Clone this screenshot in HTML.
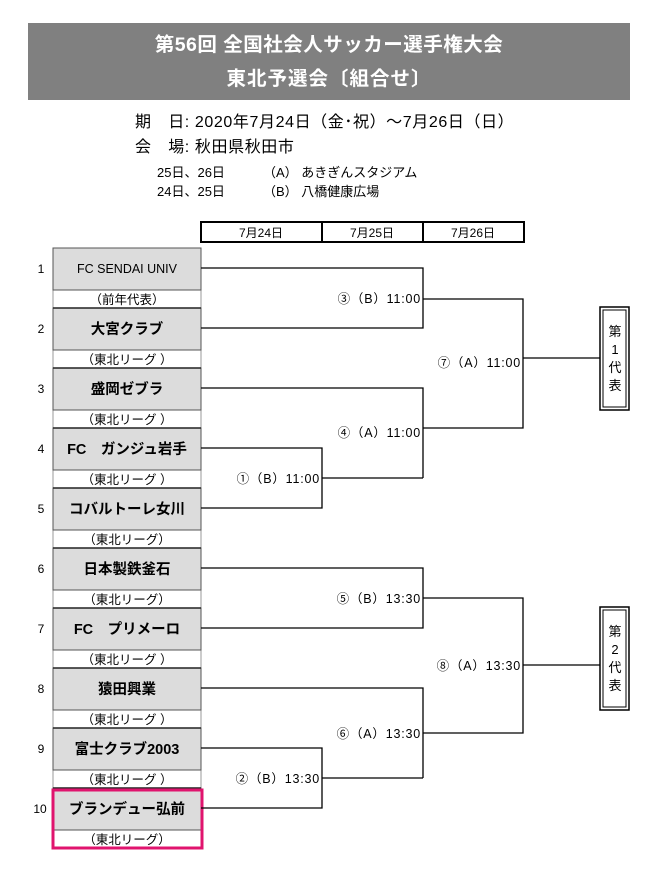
<!DOCTYPE html>
<html><head><meta charset="utf-8"><style>
body{margin:0;background:#fff;}
svg text{font-family:"Liberation Sans","Noto Sans CJK JP",sans-serif;}
</style></head><body>
<svg width="660" height="890" xmlns="http://www.w3.org/2000/svg">
<rect x="28" y="23" width="602" height="77" fill="#808080"/>
<text x="329" y="51" font-size="19.5" font-weight="bold" fill="#fff" text-anchor="middle" letter-spacing="0.5">第56回 全国社会人サッカー選手権大会</text>
<text x="329" y="85" font-size="19.5" font-weight="bold" fill="#fff" text-anchor="middle" letter-spacing="1">東北予選会〔組合せ〕</text>
<text x="135" y="127" font-size="16" letter-spacing="0.6">期　日:  2020年7月24日（金･祝）～7月26日（日）</text>
<text x="135" y="152" font-size="16" letter-spacing="0.6">会　場:  秋田県秋田市</text>
<text x="157" y="177" font-size="13">25日、26日</text>
<text x="263" y="177" font-size="13">（A）  あきぎんスタジアム</text>
<text x="157" y="196" font-size="13">24日、25日</text>
<text x="263" y="196" font-size="13">（B）  八橋健康広場</text>
<g stroke="#000" stroke-width="2" fill="#fff">
<rect x="201" y="222" width="323" height="20"/>
<line x1="322" y1="222" x2="322" y2="242"/><line x1="423" y1="222" x2="423" y2="242"/>
</g>
<g font-size="12" text-anchor="middle">
<text x="261" y="237">7月24日</text><text x="372" y="237">7月25日</text><text x="473" y="237">7月26日</text>
</g>
<g stroke="#999" stroke-width="1">
<rect x="53" y="248" width="148" height="600" fill="#fff"/>
</g>
<g fill="#dcdcdc" stroke="#555" stroke-width="1">
<rect x="53" y="248" width="148" height="42"/>
<rect x="53" y="308" width="148" height="42"/>
<rect x="53" y="368" width="148" height="42"/>
<rect x="53" y="428" width="148" height="42"/>
<rect x="53" y="488" width="148" height="42"/>
<rect x="53" y="548" width="148" height="42"/>
<rect x="53" y="608" width="148" height="42"/>
<rect x="53" y="668" width="148" height="42"/>
<rect x="53" y="728" width="148" height="42"/>
<rect x="53" y="788" width="148" height="42"/>
</g>
<g stroke="#222" stroke-width="1.5">
<line x1="53" y1="308" x2="201" y2="308"/><line x1="53" y1="368" x2="201" y2="368"/>
<line x1="53" y1="428" x2="201" y2="428"/><line x1="53" y1="488" x2="201" y2="488"/>
<line x1="53" y1="548" x2="201" y2="548"/><line x1="53" y1="608" x2="201" y2="608"/>
<line x1="53" y1="668" x2="201" y2="668"/><line x1="53" y1="728" x2="201" y2="728"/>
<line x1="53" y1="788" x2="201" y2="788"/>
</g>
<rect x="53" y="790" width="149" height="58" fill="none" stroke="#e0146e" stroke-width="3"/>
<g font-size="12" text-anchor="middle">
<text x="41" y="273">1</text><text x="41" y="333">2</text><text x="41" y="393">3</text><text x="41" y="453">4</text><text x="41" y="513">5</text>
<text x="41" y="573">6</text><text x="41" y="633">7</text><text x="41" y="693">8</text><text x="41" y="753">9</text><text x="40" y="813">10</text>
</g>
<g font-size="14.5" font-weight="bold" text-anchor="middle">
<text x="127" y="273" font-weight="normal" font-size="12.5">FC SENDAI UNIV</text>
<text x="127" y="334">大宮クラブ</text>
<text x="127" y="394">盛岡ゼブラ</text>
<text x="127" y="454">FC　ガンジュ岩手</text>
<text x="127" y="514">コバルトーレ女川</text>
<text x="127" y="574">日本製鉄釜石</text>
<text x="127" y="634">FC　プリメーロ</text>
<text x="127" y="694">猿田興業</text>
<text x="127" y="754">富士クラブ2003</text>
<text x="127" y="814">ブランデュー弘前</text>
</g>
<g font-size="12.5" text-anchor="middle">
<text x="127" y="304">（前年代表）</text>
<text x="127" y="364">（東北リーグ ）</text><text x="127" y="424">（東北リーグ ）</text>
<text x="127" y="484">（東北リーグ ）</text><text x="127" y="544">（東北リーグ）</text>
<text x="127" y="604">（東北リーグ）</text><text x="127" y="664">（東北リーグ ）</text>
<text x="127" y="724">（東北リーグ ）</text><text x="127" y="784">（東北リーグ ）</text>
<text x="127" y="844">（東北リーグ）</text>
</g>
<g stroke="#000" stroke-width="1.3" fill="none">
<polyline points="201,268 423,268 423,328 201,328"/>
<polyline points="201,388 423,388 423,478"/>
<polyline points="201,448 322,448 322,508 201,508"/>
<line x1="322" y1="478" x2="423" y2="478"/>
<polyline points="423,299 523,299 523,428 423,428"/>
<line x1="523" y1="358" x2="600" y2="358"/>
<polyline points="201,568 423,568 423,628 201,628"/>
<polyline points="201,688 423,688 423,778"/>
<polyline points="201,748 322,748 322,808 201,808"/>
<line x1="322" y1="778" x2="423" y2="778"/>
<polyline points="423,598 523,598 523,733 423,733"/>
<line x1="523" y1="665" x2="600" y2="665"/>
</g>
<g font-size="12.5" text-anchor="end" letter-spacing="0.8">
<text x="421" y="303">③（B）11:00</text>
<text x="421" y="437">④（A）11:00</text>
<text x="320" y="483">①（B）11:00</text>
<text x="521" y="367">⑦（A）11:00</text>
<text x="421" y="603">⑤（B）13:30</text>
<text x="421" y="738">⑥（A）13:30</text>
<text x="320" y="783">②（B）13:30</text>
<text x="521" y="670">⑧（A）13:30</text>
</g>
<g fill="#fff" stroke="#000">
<rect x="600" y="307" width="29" height="103" stroke-width="1.5"/>
<rect x="603" y="310" width="23" height="97" stroke-width="1"/>
<rect x="600" y="607" width="29" height="103" stroke-width="1.5"/>
<rect x="603" y="610" width="23" height="97" stroke-width="1"/>
</g>
<g font-size="13" text-anchor="middle">
<text x="615" y="336">第</text><text x="615" y="354">1</text><text x="615" y="372">代</text><text x="615" y="390">表</text>
<text x="615" y="636">第</text><text x="615" y="654">2</text><text x="615" y="672">代</text><text x="615" y="690">表</text>
</g>
</svg>
</body></html>
